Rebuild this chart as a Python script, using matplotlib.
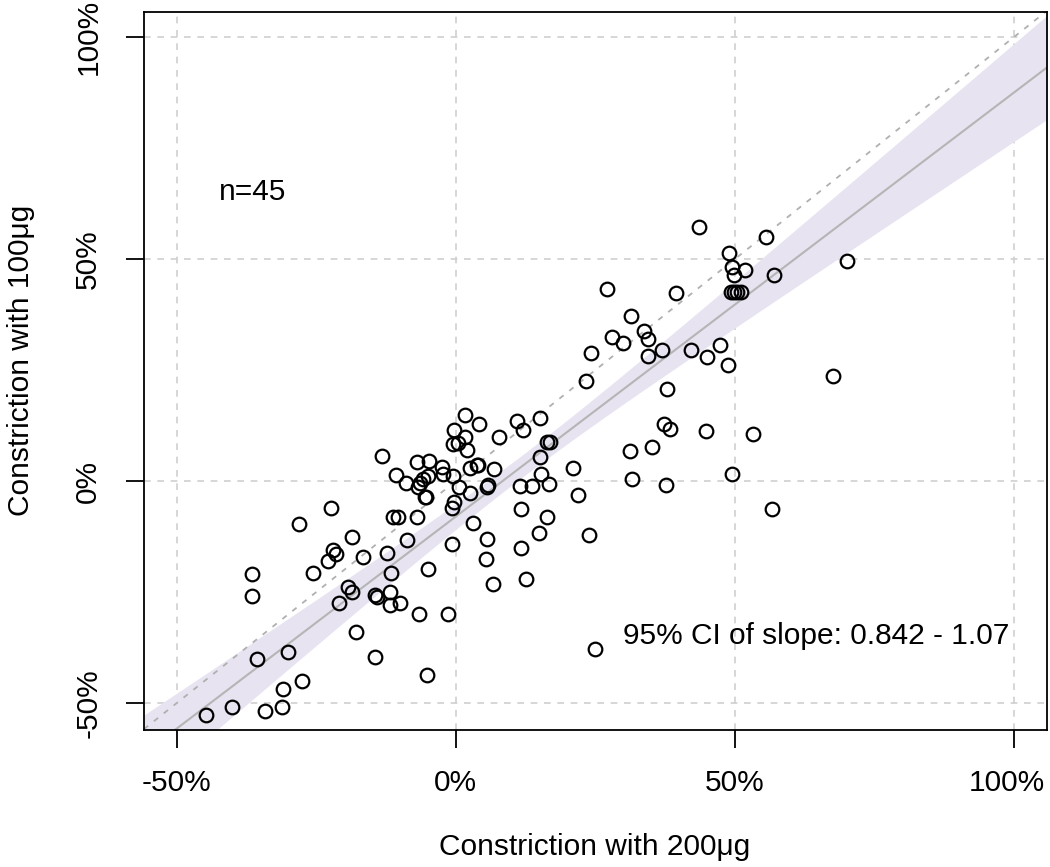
import numpy as np
import matplotlib
matplotlib.use("Agg")
import matplotlib.pyplot as plt

plt.rcParams['font.family'] = ['Liberation Sans', 'DejaVu Sans']

# constriction (%) with 200ug (x) and 100ug (y)
x200 = [-44.8, -40.1, -34.2, -31.2, -31.0, -27.6, -35.7, -30.1, -36.6, -36.6,
        -28.1, -25.6, -22.4, -22.0, -21.5, -22.9, -18.6, -16.7, -19.4, -18.6,
        -21.0, -17.9, -14.5, -5.2, -14.5, -14.2, -11.8, -11.8, -10.0, -6.6,
        -1.4, -12.4, -11.6, -5.0, -8.8, -11.3, -10.4, -7.0, -13.3, -10.8,
        -9.0, -7.0, -4.8, -5.0, -5.9, -6.5, -6.8, -5.4, -5.6, -2.5,
        -2.3, -0.5, 1.6, -0.4, 1.6, -0.5, 0.4, 2.0, 4.1, 7.7,
        10.9, 12.0, 15.1, 0.5, 2.5, 2.5, 3.8, 3.9, 6.8, 5.6,
        5.7, -0.4, -0.7, 3.0, -0.7, 5.6, 5.4, 6.6, 11.6, 11.6,
        12.5, 16.3, 14.9, 11.5, 13.6, 16.7, 15.2, 15.1, 16.3, 16.8,
        21.0, 21.9, 23.8, 31.2, 35.1, 37.3, 38.4, 44.8, 53.2, 31.5,
        37.6, 49.5, 23.3, 37.8, 24.9, 56.6, 43.5, 55.6, 48.9, 70.1,
        49.5, 51.8, 49.8, 57.0, 49.3, 49.8, 50.4, 51.1, 27.1, 39.4,
        31.4, 33.7, 28.0, 29.9, 34.4, 24.2, 34.4, 36.9, 42.1, 45.0,
        47.3, 48.7, 67.6]
y100 = [-52.7, -50.9, -51.8, -50.9, -46.8, -45.0, -40.1, -38.5, -25.9, -20.9,
        -9.7, -20.7, -6.1, -15.5, -16.4, -18.0, -12.6, -17.1, -23.9, -25.0,
        -27.5, -34.0, -39.6, -43.7, -25.7, -26.1, -25.0, -27.9, -27.5, -30.0,
        -30.0, -16.2, -20.7, -19.8, -13.3, -8.1, -8.1, -8.1, 5.6, 1.4,
        -0.5, 4.3, 4.5, 1.1, 0.5, -0.5, -1.4, -3.6, -3.6, 3.2,
        1.6, 1.1, 14.9, 11.5, 9.9, 8.3, 8.6, 7.0, 12.8, 9.9,
        13.5, 11.5, 14.2, -1.4, -2.7, 2.9, 3.6, 3.6, 2.7, -1.4,
        -0.9, -4.7, -6.1, -9.5, -14.2, -13.1, -17.6, -23.2, -6.3, -15.1,
        -22.1, -8.1, -11.7, -1.1, -1.1, -0.7, 1.6, 5.4, 8.8, 8.8,
        2.9, -3.2, -12.2, 6.8, 7.7, 12.8, 11.7, 11.3, 10.6, 0.5,
        -0.9, 1.6, 22.5, 20.7, -37.8, -6.3, 57.2, 55.0, 51.4, 49.6,
        48.2, 47.5, 46.4, 46.4, 42.6, 42.6, 42.6, 42.6, 43.2, 42.3,
        37.2, 33.8, 32.4, 31.1, 32.0, 28.8, 28.2, 29.5, 29.5, 27.9,
        30.6, 26.1, 23.6]

# fitted line and its band
fit_intercept = -8.0
fit_slope = 0.955
band_min = 2.5      # half width at the band's narrowest point
band_spread = 0.122
band_center = 12.0

ticks = [-50, 0, 50, 100]
tick_labels = ['-50%', '0%', '50%', '100%']
xlim = (-55.9, 105.9)
ylim = (-56.1, 105.6)
fs = 21.5
tick_len = 13
xpad = 15

fig = plt.figure(figsize=(10.5, 8.67), dpi=100)
ax = fig.add_axes([0.1371, 0.158, 0.8600, 0.828])

xs = np.linspace(xlim[0], xlim[1], 200)
fit = fit_intercept + fit_slope * xs
hw = np.sqrt(band_min**2 + (band_spread * (xs - band_center))**2)
ax.fill_between(xs, fit - hw, fit + hw, color='#e7e3f1', lw=0, zorder=1)

for t in ticks:
    ax.axvline(t, color='#cfcfcf', lw=1.2, ls=(0, (4, 4)), zorder=0)
    ax.axhline(t, color='#cfcfcf', lw=1.2, ls=(0, (4, 4)), zorder=0)

ax.plot(xs, xs, color='#b0b0b0', lw=1.3, ls=(0, (3, 4)), zorder=2)
ax.plot(xs, fit, color='#b5b5b5', lw=1.5, zorder=2)

ax.plot(x200, y100, 'o', mfc='none', mec='black', ms=9.8, mew=1.6, zorder=3)

ax.set_xlim(*xlim)
ax.set_ylim(*ylim)
ax.set_xticks(ticks)
# last x label is drawn separately, nudged left so it stays inside the figure
ax.set_xticklabels(tick_labels[:-1] + [''], fontsize=fs)
ax.annotate(tick_labels[-1], xy=(ticks[-1], 0), xycoords=('data', 'axes fraction'),
            xytext=(-5, -(tick_len + xpad)), textcoords='offset points',
            fontsize=fs, ha='center', va='top', annotation_clip=False)
ax.set_yticks(ticks)
ax.set_yticklabels(tick_labels, fontsize=fs, rotation=90, va='center')
ax.tick_params(axis='x', length=tick_len, width=1.3, pad=xpad)
ax.tick_params(axis='y', length=tick_len, width=1.3, pad=17)
for s in ax.spines.values():
    s.set_linewidth(1.3)

ax.text(-42.5, 65, 'n=45', fontsize=fs, ha='left', va='center')
ax.text(30, -35, '95% CI of slope: 0.842 - 1.07', fontsize=fs,
        ha='left', va='center')

fig.text(595 / 1050, 1 - 847 / 867, 'Constriction with 200μg', fontsize=fs,
         ha='center', va='center')
fig.text(21 / 1050, 1 - 360 / 867, 'Constriction with 100μg', fontsize=fs,
         ha='center', va='center', rotation=90)

fig.savefig('out.png', dpi=100)
